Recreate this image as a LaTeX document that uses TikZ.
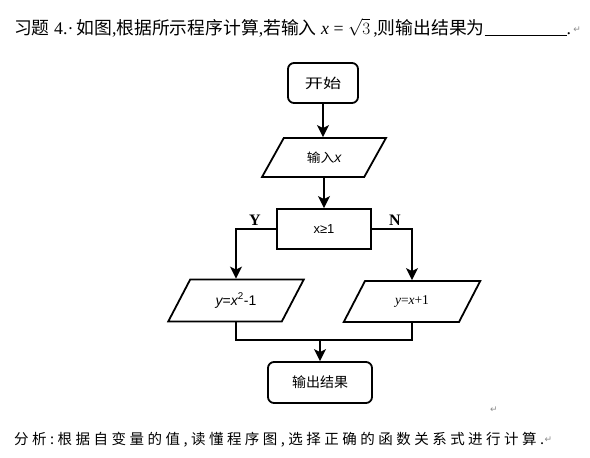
\documentclass[tikz,border=0pt]{standalone}
\usepackage{fontspec}
\usepackage{graphicx}
\setmainfont{Liberation Serif}
\setsansfont{Liberation Sans}
\newfontfamily\cjk{Noto Sans CJK SC}
\newfontfamily\cjkwide[LetterSpace=24]{Noto Sans CJK SC}
\newfontfamily\symfont{DejaVu Sans}
\usetikzlibrary{arrows.meta,positioning,shapes.geometric,calc}
\definecolor{retgrey}{HTML}{8C8C8C}
\newcommand{\ivar}[1]{{\itshape #1}}
\newcommand{\wide}[2]{\scalebox{#1}[1]{#2}}
\tikzset{
  >={Stealth[length=12pt,width=12pt,inset=3pt]},
  font=\sffamily,
  flowline/.style={line width=1.8pt,draw=black},
  flow/.style={flowline,->},
  terminal/.style={draw,line width=1.8pt,rounded corners=6pt,inner sep=0pt,
                   font=\cjk\fontsize{13.5}{15}\selectfont},
  process/.style={draw,line width=1.8pt,minimum width=94pt,minimum height=40pt,
                  inner sep=0pt,font=\sffamily\fontsize{13}{15}\selectfont},
  io/.style={draw,line width=1.8pt,trapezium,trapezium stretches=true,inner sep=0pt,
             font=\sffamily\fontsize{14}{16}\selectfont},
  branch/.style={font=\rmfamily\bfseries\fontsize{16}{18}\selectfont,inner sep=0pt},
  retmark/.style={font=\symfont\fontsize{9}{9}\selectfont,text=retgrey,inner sep=0pt},
  textline/.style={anchor=base west,inner sep=0pt,font=\rmfamily\fontsize{17.8}{20}\selectfont},
}
\begin{document}
\begin{tikzpicture}[x=1pt,y=-1pt]
  \path[use as bounding box,fill=white] (0,0) rectangle (590,458);

  % question
  \node[textline] (question) at (14,34)
    {{\cjk 习题} 4.·\,{\cjk 如图},{\cjk 根据所示程序计算},{\cjk 若输入} \ivar{x} = $\sqrt{3}$\,,{\cjk 则输出结果为}\underline{\hspace{82pt}}.};
  \node[retmark,anchor=west] (ret1) at ([xshift=2pt,yshift=4pt]question.base east) {↵};

  % flow chart
  \node[terminal,minimum width=70pt,minimum height=40pt] (start) at (323,83)
    {\wide{1.35}{开始}};
  \node[io,trapezium left angle=51,trapezium right angle=129,
        minimum width=124pt,minimum height=39pt] (input) at (324,157.5)
    {{\cjk\fontsize{12.5}{14}\selectfont\wide{1.1}{输入}}\ivar{x}};
  \node[process] (test) at (324,229) {x≥1};
  \node[io,trapezium left angle=57,trapezium right angle=123,
        minimum width=136pt,minimum height=42pt] (yes) at (236,300.5)
    {\ivar{y}=\ivar{x}\textsuperscript{2}-1};
  \node[io,trapezium left angle=57,trapezium right angle=123,
        minimum width=137pt,minimum height=41pt] (no) at (412,301.5)
    {\rmfamily\fontsize{13.5}{15}\selectfont\ivar{y}=\ivar{x}+1};
  \node[terminal,minimum width=104pt,minimum height=41pt] (stop) at (320,382.5)
    {\fontsize{14}{16}\selectfont 输出结果};

  \node[branch] (ylabel) at (255,220) {Y};
  \node[branch] (nlabel) at (395,220) {N};

  \draw[flow] (start.south) -- (start.south |- input.north);
  \draw[flow] (input.south) -- (input.south |- test.north);
  \draw[flow] (test.west) -| (yes.north);
  \draw[flow] (test.east) -| (no.north);
  \coordinate (join) at (320,340);
  \draw[flowline] (yes.south) |- (join) -| (no.south);
  \draw[flow] (join) -- (stop.north);

  \node[retmark] (ret2) at (494,410) {↵};

  % analysis
  \node[textline,font=\cjkwide\fontsize{14.5}{17}\selectfont] (analysis) at (14,444)
    {分析:根据自变量的值,读懂程序图,选择正确的函数关系式进行计算.};
  \node[retmark,anchor=west] (ret3) at ([yshift=4pt]analysis.base east) {↵};
\end{tikzpicture}
\end{document}
